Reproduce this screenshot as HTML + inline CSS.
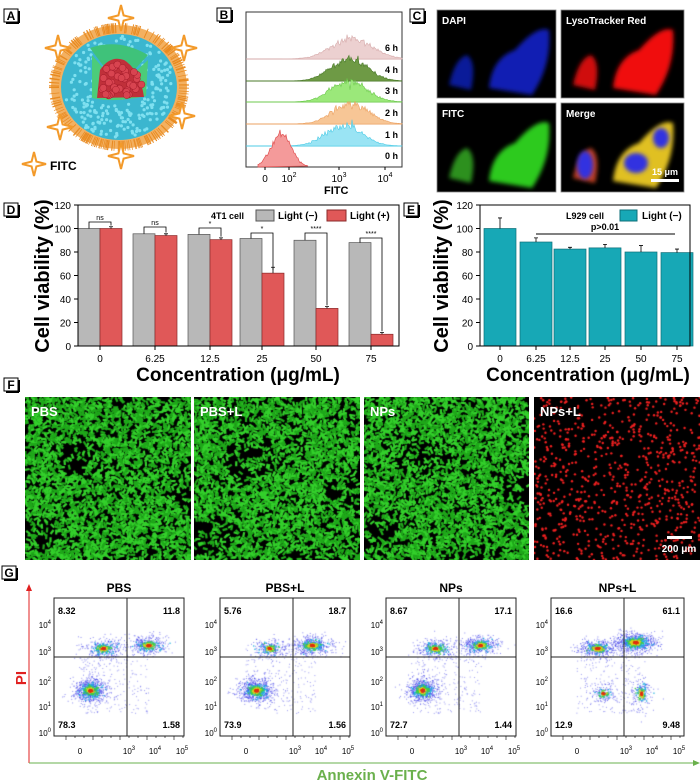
<!DOCTYPE html>
<html><head><meta charset="utf-8">
<style>
html,body{margin:0;padding:0;background:#fff;}
#wrap{position:relative;width:700px;height:784px;overflow:hidden;font-family:"Liberation Sans",Arial,sans-serif;}
canvas{position:absolute;}
svg{position:absolute;left:0;top:0;}
text{font-family:"Liberation Sans",Arial,sans-serif;}
</style></head><body>
<div id="wrap">
<canvas id="f0" width="166" height="163" style="left:25px;top:397px"></canvas>
<canvas id="f1" width="166" height="163" style="left:194px;top:397px"></canvas>
<canvas id="f2" width="165" height="163" style="left:364px;top:397px"></canvas>
<canvas id="f3" width="166" height="163" style="left:534px;top:397px"></canvas>
<canvas id="g0" width="130" height="138" style="left:54px;top:598px"></canvas>
<canvas id="g1" width="130" height="138" style="left:220px;top:598px"></canvas>
<canvas id="g2" width="130" height="138" style="left:386px;top:598px"></canvas>
<canvas id="g3" width="133" height="138" style="left:551px;top:598px"></canvas>
<svg id="s" width="700" height="784" viewBox="0 0 700 784"></svg>
</div>
<script>
var seed=12345;function R(){seed=(seed*16807)%2147483647;return (seed-1)/2147483646;}
function G(){var u=R()||1e-9,v=R();return Math.sqrt(-2*Math.log(u))*Math.cos(6.283*v);}
var S=[];
function t(x,y,s,o){o=o||{};S.push('<text x="'+x+'" y="'+y+'" font-size="'+(o.fs||10)+'" font-weight="'+(o.fw||'bold')+'" fill="'+(o.c||'#000')+'" text-anchor="'+(o.a||'start')+'"'+(o.tr?' transform="'+o.tr+'"':'')+'>'+s+'</text>');}
function lab(x,y,s){S.push('<rect x="'+x+'" y="'+y+'" width="14" height="13" fill="#fff" stroke="#000" stroke-width="1"/><line x1="'+(x+2)+'" y1="'+(y+14)+'" x2="'+(x+15)+'" y2="'+(y+14)+'" stroke="#000" stroke-width="2"/><line x1="'+(x+15)+'" y1="'+(y+2)+'" x2="'+(x+15)+'" y2="'+(y+14)+'" stroke="#000" stroke-width="2"/>');t(x+7,y+11,s,{fs:12,a:'middle'});}
// ---- A ----
lab(4,9,'A');
function star(cx,cy,r){var p=[];for(var i=0;i<8;i++){var a=i*Math.PI/4-Math.PI/2,rr=i%2?r*0.28:r;p.push((cx+rr*Math.cos(a)).toFixed(1)+','+(cy+rr*Math.sin(a)).toFixed(1));}S.push('<polygon points="'+p.join(' ')+'" fill="#fff" stroke="#f39a2a" stroke-width="2"/>');}
S.push('<ellipse cx="119" cy="87" rx="68" ry="62" fill="#f3b060"/>');
for(var i=0;i<260;i++){var a=R()*6.283;S.push('<line x1="'+(119+60*Math.cos(a))+'" y1="'+(87+54*Math.sin(a))+'" x2="'+(119+70*Math.cos(a))+'" y2="'+(87+64*Math.sin(a))+'" stroke="#e88a20" stroke-width="0.7"/>');}
S.push('<ellipse cx="119" cy="87" rx="58" ry="53" fill="#3bb6cf"/>');
for(var i=0;i<300;i++){var a=R()*6.283,r=Math.sqrt(R());S.push('<circle cx="'+(119+56*r*Math.cos(a)).toFixed(1)+'" cy="'+(87+51*r*Math.sin(a)).toFixed(1)+'" r="1.6" fill="#7fe0f0"/>');}
S.push('<path d="M119 87 L90 48 Q119 38 148 55 Z" fill="#3fc27a"/><path d="M119 87 L92 55 L92 98 Q115 103 146 96 L148 60 Z" fill="#4ccc7a"/>');
S.push('<path d="M97 98 L100 70 Q110 55 124 60 Q140 70 144 97 Z" fill="#c0303a"/>');
for(var i=0;i<40;i++){S.push('<circle cx="'+(102+R()*40)+'" cy="'+(64+R()*32)+'" r="3.5" fill="#d84450" stroke="#a01828" stroke-width="0.5"/>');}
star(121,18,13);star(58,48,13);star(184,48,13);star(60,127,13);star(182,116,13);star(121,156,13);star(34,164,12);
t(50,170,'FITC',{fs:12});
// ---- B ----
lab(217,8,'B');
S.push('<rect x="246" y="12" width="156" height="155" fill="#fff" stroke="#333" stroke-width="1"/>');
var rows=[[59,'#ecd0d0','#d6aaaa',20,'6 h',352,20],[81,'#6e9a45','#4a7a2a',22,'4 h',349,18],[102,'#9be87a','#6cc84c',21,'3 h',349,18],[124,'#f7c696','#eba060',20,'2 h',351,18],[146,'#9ae4f4','#4ccbe6',21,'1 h',344,18]];
rows.forEach(function(r){var y0=r[0],d='M246 '+y0;for(var x=246;x<=402;x++){var z=(x-r[5])/r[6];var h=r[3]*Math.exp(-z*z/2)*(1+0.12*G());if(h<0)h=0;d+=' L'+x+' '+(y0-h).toFixed(1);}d+=' L402 '+y0+' Z';S.push('<line x1="246" y1="'+y0+'" x2="402" y2="'+y0+'" stroke="'+r[2]+'" stroke-width="1"/><path d="'+d+'" fill="'+r[1]+'" stroke="'+r[2]+'" stroke-width="0.6"/>');t(398,y0-8,r[4],{fs:9,a:'end'});});
(function(){var y0=167,d='M258 '+y0;for(var x=258;x<=308;x++){var z=(x-281)/10;var h=34*Math.exp(-z*z/2)*(1+0.1*G());if(h<0)h=0;d+=' L'+x+' '+(y0-h).toFixed(1);}d+=' Z';S.push('<path d="'+d+'" fill="#f49a9a" stroke="#e05050" stroke-width="0.7"/>');t(398,159,'0 h',{fs:9,a:'end'});})();
[[265,'0'],[289,'10<tspan dy="-5" font-size="7">2</tspan>'],[339,'10<tspan dy="-5" font-size="7">3</tspan>'],[385,'10<tspan dy="-5" font-size="7">4</tspan>']].forEach(function(k){S.push('<line x1="'+k[0]+'" y1="167" x2="'+k[0]+'" y2="170" stroke="#000"/>');t(k[0],182,k[1],{fs:10,fw:'normal',a:'middle'});});
t(324,194,'FITC',{fs:11});
// ---- C ----
lab(410,9,'C');
function cellimg(x,y,w,h,title,col){S.push('<rect x="'+x+'" y="'+y+'" width="'+w+'" height="'+h+'" fill="#000" stroke="#888" stroke-width="0.8"/>');S.push('<g clip-path="url(#cp'+x+y+')">');S.push('<clipPath id="cp'+x+y+'"><rect x="'+x+'" y="'+y+'" width="'+w+'" height="'+h+'"/></clipPath>');col(x,y);S.push('</g>');t(x+5,y+14,title,{fs:10,c:'#fff'});}
S.push('<defs><filter id="bl"><feGaussianBlur stdDeviation="2"/></filter></defs>');
function cells(x,y,c1,c2,op){S.push('<g filter="url(#bl)" opacity="'+op+'"><path d="M'+(x+12)+' '+(y+75)+' Q'+(x+18)+' '+(y+48)+' '+(x+30)+' '+(y+45)+' Q'+(x+40)+' '+(y+52)+' '+(x+34)+' '+(y+80)+' Z" fill="'+c1+'"/><path d="M'+(x+52)+' '+(y+78)+' Q'+(x+55)+' '+(y+48)+' '+(x+78)+' '+(y+40)+' Q'+(x+100)+' '+(y+15)+' '+(x+112)+' '+(y+20)+' Q'+(x+115)+' '+(y+55)+' '+(x+95)+' '+(y+85)+' Z" fill="'+c2+'"/></g>');}
cellimg(437,10,119,88,'DAPI',function(x,y){cells(x,y,'#1020c0','#1828e0',0.8);});
cellimg(561,10,123,88,'LysoTracker Red',function(x,y){cells(x,y,'#d01010','#f01010',1);});
cellimg(437,103,119,89,'FITC',function(x,y){cells(x,y,'#30a020','#30e020',0.9);});
cellimg(561,103,123,89,'Merge',function(x,y){cells(x,y,'#c04020','#e0c020',1);S.push('<g filter="url(#bl)"><ellipse cx="'+(x+24)+'" cy="'+(y+62)+'" rx="8" ry="14" fill="#3030e0"/><ellipse cx="'+(x+75)+'" cy="'+(y+60)+'" rx="12" ry="10" fill="#3030e0"/><ellipse cx="'+(x+100)+'" cy="'+(y+35)+'" rx="8" ry="10" fill="#3030e0"/></g>');});
S.push('<rect x="651" y="179" width="28" height="3" fill="#fff"/>');t(665,175,'15 μm',{fs:9,c:'#fff',a:'middle'});
// ---- D ----
lab(4,203,'D');
function yv(v){return 346-v*141/120;}
var gx=[100,155,210,262,316,371],gv=[100,95.5,95,91.5,90,88],rv=[100,94,90.5,62,32,10],br=[222,227,228,233,233,238],sg=['ns','ns','*','*','****','****'];
for(var i=0;i<6;i++){var x=gx[i];S.push('<rect x="'+(x-22)+'" y="'+yv(gv[i])+'" width="22" height="'+(346-yv(gv[i]))+'" fill="#b8b8b8" stroke="#555" stroke-width="0.7"/>');S.push('<rect x="'+x+'" y="'+yv(rv[i])+'" width="22" height="'+(346-yv(rv[i]))+'" fill="#e05858" stroke="#8a2a2a" stroke-width="0.7"/>');
var e=i==3?5:1.5;S.push('<path d="M'+(x+11)+' '+yv(rv[i]+e)+' V'+yv(rv[i])+' M'+(x+9)+' '+yv(rv[i]+e)+' H'+(x+13)+' M'+(x-11)+' '+yv(gv[i]+1)+' V'+yv(gv[i])+'" stroke="#000" stroke-width="0.8" fill="none"/>');
S.push('<path d="M'+(x-11)+' '+(yv(gv[i])-1)+' V'+br[i]+' H'+(x+11)+' V'+(yv(rv[i])-3)+'" stroke="#000" stroke-width="0.8" fill="none"/>');t(x,br[i]-2,sg[i],{fs:7,fw:'normal',a:'middle'});}
S.push('<rect x="78" y="205" width="321" height="141" fill="none" stroke="#000" stroke-width="1"/>');
for(var v=0;v<=120;v+=20){S.push('<line x1="74" y1="'+yv(v)+'" x2="78" y2="'+yv(v)+'" stroke="#000"/>');t(71,yv(v)+4,v,{fs:10,fw:'normal',a:'end'});}
gx.forEach(function(x,i){S.push('<line x1="'+x+'" y1="346" x2="'+x+'" y2="350" stroke="#000"/>');t(x,362,['0','6.25','12.5','25','50','75'][i],{fs:10,fw:'normal',a:'middle'});});
t(211,219,'4T1 cell',{fs:9});S.push('<rect x="256" y="210" width="18" height="11" fill="#b8b8b8" stroke="#555"/><rect x="327" y="210" width="19" height="11" fill="#e05858" stroke="#8a2a2a"/>');t(278,219,'Light (−)',{fs:10});t(350,219,'Light (+)',{fs:10});
t(49,276,'Cell viability (%)',{fs:20,a:'middle',tr:'rotate(-90 49 276)'});
t(238,381,'Concentration (μg/mL)',{fs:19,a:'middle'});
// ---- E ----
lab(404,203,'E');
var ex=[500,536,570,605,641,677],ev=[100,88.5,82.5,83.5,80,79.5],ee=[9,3.5,1.5,3,5.5,3];
ex.forEach(function(x,i){S.push('<rect x="'+(x-16)+'" y="'+yv(ev[i])+'" width="32" height="'+(346-yv(ev[i]))+'" fill="#17a8b6" stroke="#0e6f78" stroke-width="0.7"/><path d="M'+x+' '+yv(ev[i]+ee[i])+' V'+yv(ev[i])+' M'+(x-2)+' '+yv(ev[i]+ee[i])+' H'+(x+2)+'" stroke="#000" stroke-width="0.8"/>');S.push('<line x1="'+x+'" y1="346" x2="'+x+'" y2="350" stroke="#000"/>');t(x,362,['0','6.25','12.5','25','50','75'][i],{fs:10,fw:'normal',a:'middle'});});
S.push('<rect x="480" y="205" width="210" height="141" fill="none" stroke="#000" stroke-width="1"/>');
for(var v=0;v<=120;v+=20){S.push('<line x1="476" y1="'+yv(v)+'" x2="480" y2="'+yv(v)+'" stroke="#000"/>');t(473,yv(v)+4,v,{fs:10,fw:'normal',a:'end'});}
t(566,219,'L929 cell',{fs:9});S.push('<rect x="620" y="210" width="17" height="11" fill="#17a8b6" stroke="#0e6f78"/>');t(642,219,'Light (−)',{fs:10});
S.push('<line x1="536" y1="234" x2="675" y2="234" stroke="#000" stroke-width="1"/>');t(605,230,'p&gt;0.01',{fs:9,a:'middle'});
t(448,276,'Cell viability (%)',{fs:20,a:'middle',tr:'rotate(-90 448 276)'});
t(588,381,'Concentration (μg/mL)',{fs:19,a:'middle'});
// ---- F ----
lab(4,378,'F');
[[25,'PBS'],[194,'PBS+L'],[364,'NPs'],[534,'NPs+L']].forEach(function(k){t(k[0]+6,416,k[1],{fs:13,c:'#fff'});});
S.push('<rect x="667" y="536" width="25" height="3" fill="#fff"/>');t(679,552,'200 μm',{fs:10,c:'#fff',a:'middle'});
// ---- G ----
lab(2,566,'G');
S.push('<line x1="29" y1="590" x2="29" y2="763" stroke="#e02020" stroke-width="1"/><polygon points="29,584 26,591 32,591" fill="#e02020"/>');
S.push('<line x1="29" y1="763" x2="693" y2="763" stroke="#6ab04c" stroke-width="1"/><polygon points="700,763 693,760 693,766" fill="#6ab04c"/>');
t(26,678,'PI',{fs:15,c:'#e02020',a:'middle',tr:'rotate(-90 26 678)'});
t(372,780,'Annexin V-FITC',{fs:15,c:'#6ab04c',a:'middle'});
var gb=[[54,130,'PBS',['8.32','11.8','78.3','1.58']],[220,130,'PBS+L',['5.76','18.7','73.9','1.56']],[386,130,'NPs',['8.67','17.1','72.7','1.44']],[551,133,'NPs+L',['16.6','61.1','12.9','9.48']]];
gb.forEach(function(b){var x=b[0],w=b[1];S.push('<rect x="'+x+'" y="598" width="'+w+'" height="138" fill="none" stroke="#222" stroke-width="1"/><line x1="'+(x+73)+'" y1="598" x2="'+(x+73)+'" y2="736" stroke="#222" stroke-width="1"/><line x1="'+x+'" y1="657" x2="'+(x+w)+'" y2="657" stroke="#222" stroke-width="1"/>');
t(x+w/2,592,b[2],{fs:12,a:'middle'});var q=b[3];t(x+4,614,q[0],{fs:9});t(x+w-4,614,q[1],{fs:9,a:'end'});t(x+4,728,q[2],{fs:9});t(x+w-4,728,q[3],{fs:9,a:'end'});
[[625,4],[652,3],[682,2],[707,1],[733,0]].forEach(function(k){t(x-3,k[0]+3,'10<tspan dy="-4" font-size="6">'+k[1]+'</tspan>',{fs:8,fw:'normal',a:'end'});});
[[26,'0'],[75,'10<tspan dy="-4" font-size="6">3</tspan>'],[101,'10<tspan dy="-4" font-size="6">4</tspan>'],[128,'10<tspan dy="-4" font-size="6">5</tspan>']].forEach(function(k){t(x+k[0],754,k[1],{fs:8,fw:'normal',a:'middle'});});
for(var i=0;i<14;i++){S.push('<line x1="'+(x+12+i*9)+'" y1="736" x2="'+(x+12+i*9)+'" y2="'+(i%3?738:740)+'" stroke="#000" stroke-width="0.6"/>');}
});
document.getElementById('s').innerHTML=S.join('');
// F canvases
function fimg(id,dark){var c=document.getElementById(id).getContext('2d');var w=c.canvas.width,h=c.canvas.height;c.fillStyle='#000';c.fillRect(0,0,w,h);
for(var i=0;i<3300;i++){var x=R()*w,y=R()*h;var d=Math.sin(x*0.05+y*0.03)+Math.cos(y*0.07-x*0.02);if(d<dark&&R()<0.6)continue;c.fillStyle=R()<0.5?'#1fa81a':'#34d02c';c.save();c.translate(x,y);c.rotate(R()*3.14);c.fillRect(-2.5,-1.1,5,2.2);c.restore();}}
fimg('f0',-1.2);fimg('f1',-0.9);fimg('f2',-1.1);
(function(){var c=document.getElementById('f3').getContext('2d');c.fillStyle='#000';c.fillRect(0,0,166,163);c.fillStyle='#f02020';for(var i=0;i<750;i++){c.beginPath();c.arc(R()*166,R()*163,1.2,0,6.283);c.fill();}})();
// flow
function flow(id,cl){var c=document.getElementById(id).getContext('2d');
cl.forEach(function(k){var n=k[4];for(var i=0;i<n;i++){var x=k[0]+G()*k[2],y=k[1]+G()*k[3];c.fillStyle='rgba(40,40,230,0.55)';c.fillRect(x,y,1,1);}
var cols=[['#20b0e0',0.55],['#40d040',0.35],['#e0d020',0.18],['#e03010',0.08]];cols.forEach(function(cc){c.fillStyle=cc[0];for(var i=0;i<n*0.25;i++){var x=k[0]+G()*k[2]*cc[1],y=k[1]+G()*k[3]*cc[1];c.fillRect(x,y,1.3,1.3);}});});
c.fillStyle='rgba(60,60,230,0.5)';for(var i=0;i<250;i++){c.fillRect(25+R()*70,45+R()*70,1,1);}}
var base=[[36,92,8,6,700],[49,50,10,5,300],[94,47,10,5,350]];
flow('g0',base);flow('g1',[[36,92,9,6,700],[49,50,9,5,200],[92,47,11,5,420]]);flow('g2',[[36,92,8,6,650],[49,50,10,5,300],[94,47,10,5,400]]);
flow('g3',[[46,50,11,5,350],[84,44,11,5,700],[90,95,6,9,150],[52,95,8,5,120]]);
</script>
</body></html>
